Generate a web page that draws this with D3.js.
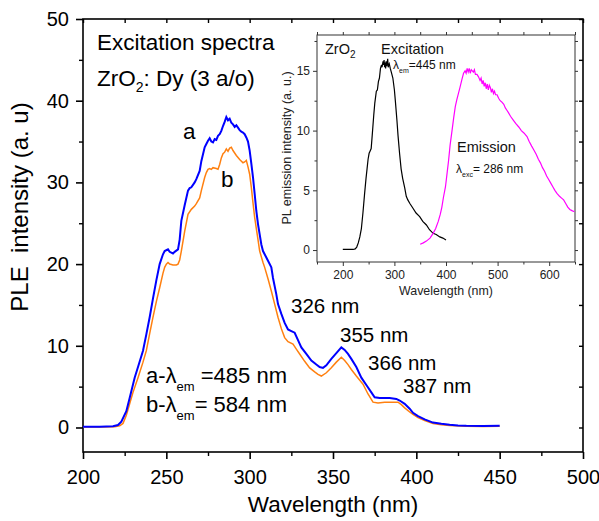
<!DOCTYPE html>
<html>
<head>
<meta charset="utf-8">
<script src="https://cdn.jsdelivr.net/npm/d3@7"></script>
<style>
  html, body { margin: 0; padding: 0; background: #fff; }
  svg { display: block; font-family: "Liberation Sans", Arial, sans-serif; }
</style>
</head>
<body>
<svg id="chart" width="599" height="521"></svg>
<script>
// ZrO2:Dy (3 a/o) excitation spectra, monitored at 485 nm (a) and 584 nm (b)
const waveA = [200,210,218,221,223,226,228,231,233,236,238,240,242,244,246,248,249,251,252,254,255,257,258,259,261,263,264,265,267,268,270,271,273,274,275,276,277,278,279,280,281,282,283,284,285,286,287,288,289,290,291,292,293,294,295,296,297,298,299,300,301,302,303,304,305,307,308,310,311,313,314,316,317,319,321,323,325,327,329,331,334,337,340,342,344,346,349,352,355,357,359,361,364,367,370,373,375,378,381,384,388,390,393,396,398,401,405,410,415,420,425,430,440,450];
const intensityA = [0.1,0.1,0.15,0.3,0.7,2.0,3.6,6.1,7.4,9.4,11.4,13.5,15.8,18.0,20.0,21.2,21.6,21.8,21.5,21.3,21.5,21.8,23.0,25.3,27.2,29.0,29.3,29.4,30.0,30.4,31.4,32.6,34.3,34.7,35.1,35.4,35.0,34.9,35.3,35.2,35.7,35.9,36.3,36.9,37.4,38.0,37.6,37.8,37.3,37.1,36.8,37.0,36.7,36.4,36.2,36.1,35.9,35.5,35.0,33.9,32.3,30.6,28.6,26.5,24.9,22.4,21.6,20.8,20.4,19.6,18.3,16.3,15.1,13.9,12.8,12.0,11.8,11.6,10.7,9.8,9.0,8.2,7.7,7.4,7.3,7.6,8.4,9.1,9.8,9.5,9.0,8.4,7.4,6.1,5.2,4.3,3.7,3.6,3.6,3.6,3.5,3.3,2.9,2.3,1.8,1.4,1.0,0.6,0.45,0.33,0.25,0.2,0.18,0.2];

const waveB = [200,210,219,222,224,226,228,230,233,236,238,240,242,244,246,248,249,250,251,252,254,256,257,258,259,261,263,265,267,268,270,271,273,274,275,276,277,278,280,281,282,283,284,285,286,287,288,289,290,291,292,294,296,297,298,299,300,301,302,303,305,306,308,309,311,313,315,317,319,321,323,326,328,330,333,336,339,341,343,346,349,352,355,357,359,361,364,368,371,374,377,381,385,389,391,393,396,398,401,405,410,415,420,430,440,450];
const intensityB = [0.05,0.05,0.1,0.2,0.5,1.5,2.9,4.3,6.1,8.0,9.4,11.5,13.5,15.4,17.1,18.9,19.6,20.0,20.2,20.0,19.9,19.9,20.0,20.5,21.6,24.0,26.1,26.7,27.1,27.4,28.1,29.0,30.6,31.2,31.6,31.7,31.6,31.8,31.7,31.6,32.2,33.0,33.5,33.7,34.1,33.8,34.2,34.3,33.9,33.6,33.3,32.8,32.4,32.5,32.7,31.9,31.0,29.4,27.5,25.7,23.0,21.6,20.2,19.6,18.2,16.7,15.1,13.5,12.1,11.0,10.5,10.2,9.6,9.0,8.1,7.3,6.8,6.5,6.3,6.7,7.3,8.0,8.6,8.2,7.7,7.1,6.3,5.3,4.1,3.1,3.0,3.1,3.1,3.1,2.8,2.4,1.9,1.6,1.2,0.85,0.5,0.35,0.25,0.15,0.12,0.15];

// Undoped ZrO2: excitation (λem = 445 nm) and emission (λexc = 286 nm)
const excWave = [200,210,220,224,227,230,233,236,239,242,245,247,249,251,253,255,257,260,262,265,267,269,271,273,275,276,278,279,280,281,282,283,284,285,286,287,288,289,290,292,294,297,300,302,305,307,310,313,316,320,323,326,330,336,342,349,355,362,368,375,381,388,394,400];
const excIntensity = [0.05,0.05,0.05,0.1,0.25,0.6,1.1,1.8,3.1,4.6,6.0,6.8,7.6,8.1,8.3,8.5,9.6,11.3,12.3,13.3,13.4,14.1,14.4,15.2,15.5,15.3,15.8,15.5,15.9,15.3,15.7,15.2,15.8,15.4,15.6,16.0,15.3,15.5,15.6,15.2,14.9,14.4,13.4,12.4,10.8,9.6,8.1,6.8,6.0,5.2,4.5,4.2,3.9,3.5,3.1,2.8,2.4,2.1,1.7,1.4,1.3,1.1,1.0,0.85];

const emWave = [350,356,362,369,375,380,385,389,392,395,399,402,405,408,412,415,418,421,424,427,431,434,437,439,441,443,445,447,449,451,453,455,457,460,463,466,468,470,472,474,476,478,480,482,484,486,488,490,492,494,496,499,502,505,508,512,515,518,521,525,530,535,541,546,551,557,561,566,570,575,579,583,587,591,595,599,603,607,611,615,620,624,628,632,636,640,644,649];
const emIntensity = [0.48,0.6,0.75,1.0,1.4,1.8,2.4,3.0,3.6,4.4,5.3,6.4,7.5,8.8,10.1,11.1,12.0,12.6,13.1,13.6,14.3,14.8,15.0,14.8,15.2,14.9,15.2,14.8,15.1,15.0,14.9,15.1,14.7,14.7,14.5,14.2,14.4,13.9,14.2,13.7,14.0,13.5,13.9,13.4,13.8,13.6,13.2,13.5,13.1,13.3,13.0,13.0,12.7,12.5,12.4,12.2,11.9,11.7,11.5,11.2,10.9,10.6,10.3,10.0,9.8,9.5,9.1,8.7,8.4,8.0,7.6,7.3,6.9,6.6,6.2,5.9,5.6,5.3,5.0,4.75,4.5,4.35,4.2,3.9,3.6,3.4,3.3,3.2];

// Tick values
const mainXTicks = [200,250,300,350,400,450,500];
const mainXMinor = [225,275,325,375,425,475];
const mainYTicks = [0,10,20,30,40,50];
const mainYMinor = [5,15,25,35,45];
const insetXTicks = [200,300,400,500,600];
const insetXMinor = [150,250,350,450,550,650];
const insetYTicks = [0,5,10,15];
const insetYMinor = [2.5,7.5,12.5,17.5];

const svg = d3.select("#chart");

// ---------- main panel ----------
const M = {left: 83, right: 583, top: 19, bottom: 452};
const x = d3.scaleLinear().domain([200, 500]).range([M.left, M.right]);
const y = d3.scaleLinear().domain([-3, 50]).range([M.bottom, M.top]);

const main = svg.append("g");

// frame
main.append("rect")
  .attr("x", M.left).attr("y", M.top)
  .attr("width", M.right - M.left).attr("height", M.bottom - M.top)
  .attr("fill", "none").attr("stroke", "#000").attr("stroke-width", 1.6);

function styleAxis(g, width, col) {
  g.select(".domain").remove();
  g.selectAll(".tick line").attr("stroke", col).attr("stroke-width", width);
}

// bottom axis
const xAxis = main.append("g").attr("transform", `translate(0,${M.bottom})`)
  .call(d3.axisBottom(x).tickValues(mainXTicks).tickSize(7).tickPadding(11).tickFormat(d3.format("d")));
styleAxis(xAxis, 1.6, "#000");
xAxis.selectAll("text").attr("font-size", 20).attr("fill", "#000").attr("font-family", "Liberation Sans, Arial, sans-serif");
main.append("g").attr("transform", `translate(0,${M.bottom})`)
  .call(d3.axisBottom(x).tickValues(mainXMinor).tickSize(4).tickFormat(""))
  .call(g => styleAxis(g, 1.4, "#000"));
// top axis (inward ticks)
main.append("g").attr("transform", `translate(0,${M.top})`)
  .call(d3.axisBottom(x).tickValues(mainXTicks.concat(mainXMinor)).tickSize(4).tickFormat(""))
  .call(g => styleAxis(g, 1.4, "#000"));

// left axis
const yAxis = main.append("g").attr("transform", `translate(${M.left},0)`)
  .call(d3.axisLeft(y).tickValues(mainYTicks).tickSize(7).tickPadding(7).tickFormat(d3.format("d")));
styleAxis(yAxis, 1.6, "#000");
yAxis.selectAll("text").attr("font-size", 20).attr("fill", "#000").attr("font-family", "Liberation Sans, Arial, sans-serif");
main.append("g").attr("transform", `translate(${M.left},0)`)
  .call(d3.axisLeft(y).tickValues(mainYMinor).tickSize(4).tickFormat(""))
  .call(g => styleAxis(g, 1.4, "#000"));
// right axis (inward ticks)
main.append("g").attr("transform", `translate(${M.right},0)`)
  .call(d3.axisLeft(y).tickValues(mainYTicks.concat(mainYMinor)).tickSize(4).tickFormat(""))
  .call(g => styleAxis(g, 1.4, "#000"));

// axis titles
main.append("text").attr("x", 333).attr("y", 512).attr("text-anchor", "middle")
  .attr("font-size", 22.5).text("Wavelength (nm)");
main.append("text").attr("transform", "translate(28,207) rotate(-90)").attr("text-anchor", "middle")
  .attr("font-size", 24).attr("xml:space", "preserve").text("PLE  intensity (a. u)");

// spectra
const line = d3.line().x(d => x(d[0])).y(d => y(d[1]));
main.append("path").datum(d3.zip(waveB, intensityB))
  .attr("d", line).attr("fill", "none").attr("stroke", "#ff8010").attr("stroke-width", 1.5);
main.append("path").datum(d3.zip(waveA, intensityA))
  .attr("d", line).attr("fill", "none").attr("stroke", "#0000ff").attr("stroke-width", 2);

// annotations
main.append("text").attr("x", 97).attr("y", 50).attr("font-size", 22.5).text("Excitation spectra");
const zr = main.append("text").attr("x", 97).attr("y", 86).attr("font-size", 22.5);
zr.append("tspan").text("ZrO");
zr.append("tspan").attr("font-size", 14).attr("dy", 6).text("2");
zr.append("tspan").attr("dy", -6).text(": Dy (3 a/o)");

main.append("text").attr("x", 183).attr("y", 139).attr("font-size", 22.5).text("a");
main.append("text").attr("x", 221).attr("y", 187).attr("font-size", 22.5).text("b");

const peakLabels = [["326 nm", 291, 313], ["355 nm", 340, 342], ["366 nm", 368, 370], ["387 nm", 403, 393]];
peakLabels.forEach(([t, px, py]) => main.append("text").attr("x", px).attr("y", py).attr("font-size", 20.5).text(t));

function emLabel(prefix, suffix, py) {
  const t = main.append("text").attr("x", 146).attr("y", py).attr("font-size", 22)
    .attr("xml:space", "preserve");
  t.append("tspan").text(prefix + "λ");
  t.append("tspan").attr("font-size", 13).attr("dy", 8).text("em");
  t.append("tspan").attr("dy", -8).text(suffix);
}
emLabel("a-", " =485 nm", 383);
emLabel("b-", "= 584 nm", 412);

// ---------- inset ----------
const I = {left: 317, right: 575, top: 35, bottom: 262};
const xi = d3.scaleLinear().domain([150, 650]).range([I.left, I.right]);
const yi = d3.scaleLinear().domain([-1, 18]).range([I.bottom, I.top]);
const inset = svg.append("g");
inset.append("rect")
  .attr("x", I.left).attr("y", I.top)
  .attr("width", I.right - I.left).attr("height", I.bottom - I.top)
  .attr("fill", "#fff").attr("stroke", "#333").attr("stroke-width", 1);

const ixAxis = inset.append("g").attr("transform", `translate(0,${I.bottom})`)
  .call(d3.axisBottom(xi).tickValues(insetXTicks).tickSize(4).tickPadding(4).tickFormat(d3.format("d")));
styleAxis(ixAxis, 1, "#333");
ixAxis.selectAll("text").attr("font-size", 12).attr("fill", "#222").attr("font-family", "Liberation Sans, Arial, sans-serif");
inset.append("g").attr("transform", `translate(0,${I.bottom})`)
  .call(d3.axisBottom(xi).tickValues(insetXMinor).tickSize(2.5).tickFormat(""))
  .call(g => styleAxis(g, 1, "#333"));
inset.append("g").attr("transform", `translate(0,${I.top})`)
  .call(d3.axisTop(xi).tickValues(insetXTicks.concat(insetXMinor)).tickSize(3).tickFormat(""))
  .call(g => styleAxis(g, 1, "#333"));

const iyAxis = inset.append("g").attr("transform", `translate(${I.left},0)`)
  .call(d3.axisLeft(yi).tickValues(insetYTicks).tickSize(4).tickPadding(3).tickFormat(d3.format("d")));
styleAxis(iyAxis, 1, "#333");
iyAxis.selectAll("text").attr("font-size", 12).attr("fill", "#222").attr("font-family", "Liberation Sans, Arial, sans-serif");
inset.append("g").attr("transform", `translate(${I.left},0)`)
  .call(d3.axisLeft(yi).tickValues(insetYMinor).tickSize(2.5).tickFormat(""))
  .call(g => styleAxis(g, 1, "#333"));
inset.append("g").attr("transform", `translate(${I.right},0)`)
  .call(d3.axisRight(yi).tickValues(insetYTicks.concat(insetYMinor)).tickSize(3).tickFormat(""))
  .call(g => styleAxis(g, 1, "#333"));

inset.append("text").attr("x", 446).attr("y", 295).attr("text-anchor", "middle")
  .attr("font-size", 12.4).attr("fill", "#222").text("Wavelength (nm)");
inset.append("text").attr("transform", "translate(291,148) rotate(-90)").attr("text-anchor", "middle")
  .attr("font-size", 12.5).attr("fill", "#222").text("PL emission intensity (a. u.)");

const lineI = d3.line().x(d => xi(d[0])).y(d => yi(d[1]));
inset.append("path").datum(d3.zip(excWave, excIntensity))
  .attr("d", lineI).attr("fill", "none").attr("stroke", "#000").attr("stroke-width", 1.2);
inset.append("path").datum(d3.zip(emWave, emIntensity))
  .attr("d", lineI).attr("fill", "none").attr("stroke", "#ff00ff").attr("stroke-width", 1.2);

const zi = inset.append("text").attr("x", 325).attr("y", 54).attr("font-size", 14.5).attr("fill", "#111");
zi.append("tspan").text("ZrO");
zi.append("tspan").attr("font-size", 10).attr("dy", 4).text("2");
inset.append("text").attr("x", 381).attr("y", 54).attr("font-size", 14.5).attr("fill", "#111").text("Excitation");
const le = inset.append("text").attr("x", 393).attr("y", 69).attr("font-size", 12).attr("fill", "#111");
le.append("tspan").text("λ");
le.append("tspan").attr("font-size", 7).attr("dy", 4).text("em");
le.append("tspan").attr("dy", -4).text("=445 nm");
inset.append("text").attr("x", 457).attr("y", 152).attr("font-size", 14.5).attr("fill", "#111").text("Emission");
const lx = inset.append("text").attr("x", 456).attr("y", 173).attr("font-size", 12).attr("fill", "#111")
  .attr("xml:space", "preserve");
lx.append("tspan").text("λ");
lx.append("tspan").attr("font-size", 7).attr("dy", 4).text("exc");
lx.append("tspan").attr("dy", -4).text("= 286 nm");
</script>
</body>
</html>
